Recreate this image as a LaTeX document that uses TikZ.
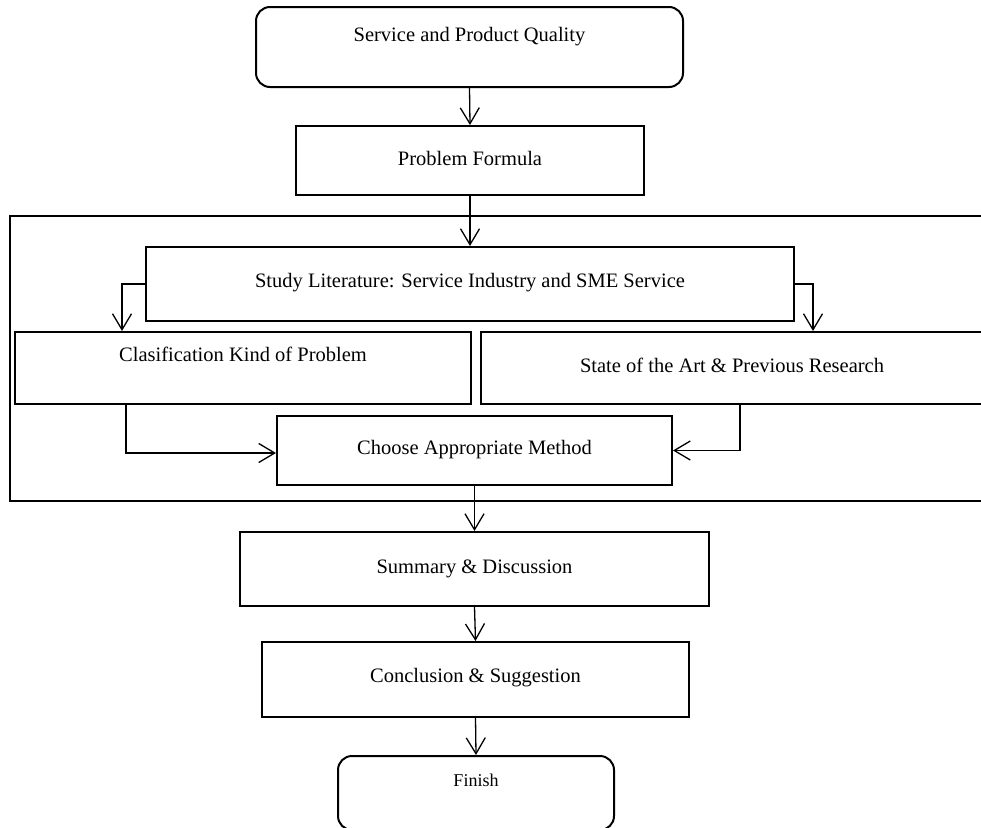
\documentclass[tikz,border=0pt]{standalone}
\usepackage{fontspec}
\setmainfont{Liberation Serif}
\usetikzlibrary{arrows.meta,positioning}
\tikzset{
  boxs/.style={draw=black, line width=2pt, rectangle, inner sep=0pt,
    font=\fontsize{20.5}{24}\selectfont, text height=14pt, text depth=4.5pt},
  rbox/.style={boxs, rounded corners=14pt},
  arr/.style={draw=black, line width=1.3pt, -{Straight Barb[length=16pt,width=19pt]}},
  frame/.style={draw=black, line width=1.6pt}
}
\begin{document}
\begin{tikzpicture}[x=1pt,y=-1pt]
\useasboundingbox (0,0) rectangle (981,827);
\clip (0,0) rectangle (981,827);
\fill[white] (0,0) rectangle (981,827);
% outer frame
\draw[frame] (10,216) rectangle (1010,501);
% boxes
\node[rbox, minimum width=427pt, minimum height=80pt, text depth=25.4pt] (svc) at (469.5,47) {Service and Product Quality};
\node[boxs, minimum width=348pt, minimum height=69pt] (prob) at (470,160.5) {Problem Formula};
\node[boxs, minimum width=648pt, minimum height=74pt, text depth=8pt] (study) at (470,284) {Study Literature: Service Industry and SME Service};
\node[boxs, minimum width=456pt, minimum height=72pt, text depth=26.4pt] (clas) at (243,368) {Clasification Kind of Problem};
\node[boxs, minimum width=502pt, minimum height=72pt] (state) at (732,368) {State of the Art \& Previous Research};
\node[boxs, minimum width=395pt, minimum height=69pt, text depth=6pt] (choose) at (474.5,450.5) {Choose Appropriate Method};
\node[boxs, minimum width=469pt, minimum height=74pt, text depth=6pt] (summ) at (474.5,569) {Summary \& Discussion};
\node[boxs, minimum width=427pt, minimum height=75pt, text depth=8pt] (concl) at (475.5,679.5) {Conclusion \& Suggestion};
\node[rbox, minimum width=276pt, minimum height=74pt, font=\fontsize{18}{22}\selectfont, text height=12pt, text depth=25.8pt] (fin) at (476,793) {Finish};
% connectors
\draw[arr] (svc.south) -- (prob.north);
\draw[arr] (prob.south) -- (study.north);
\draw[arr] (study.west) -| ([xshift=108pt]clas.north west);
\draw[arr] (study.east) -| ([xshift=333pt]state.north west);
\draw[arr] ([xshift=112pt]clas.south west) |- ([yshift=-2.5pt]choose.west);
\draw[arr] ([xshift=260pt]state.south west) |- (choose.east);
\draw[arr] (choose.south) -- (summ.north);
\draw[arr] (summ.south) -- (concl.north);
\draw[arr] (concl.south) -- (fin.north);
\end{tikzpicture}
\end{document}
